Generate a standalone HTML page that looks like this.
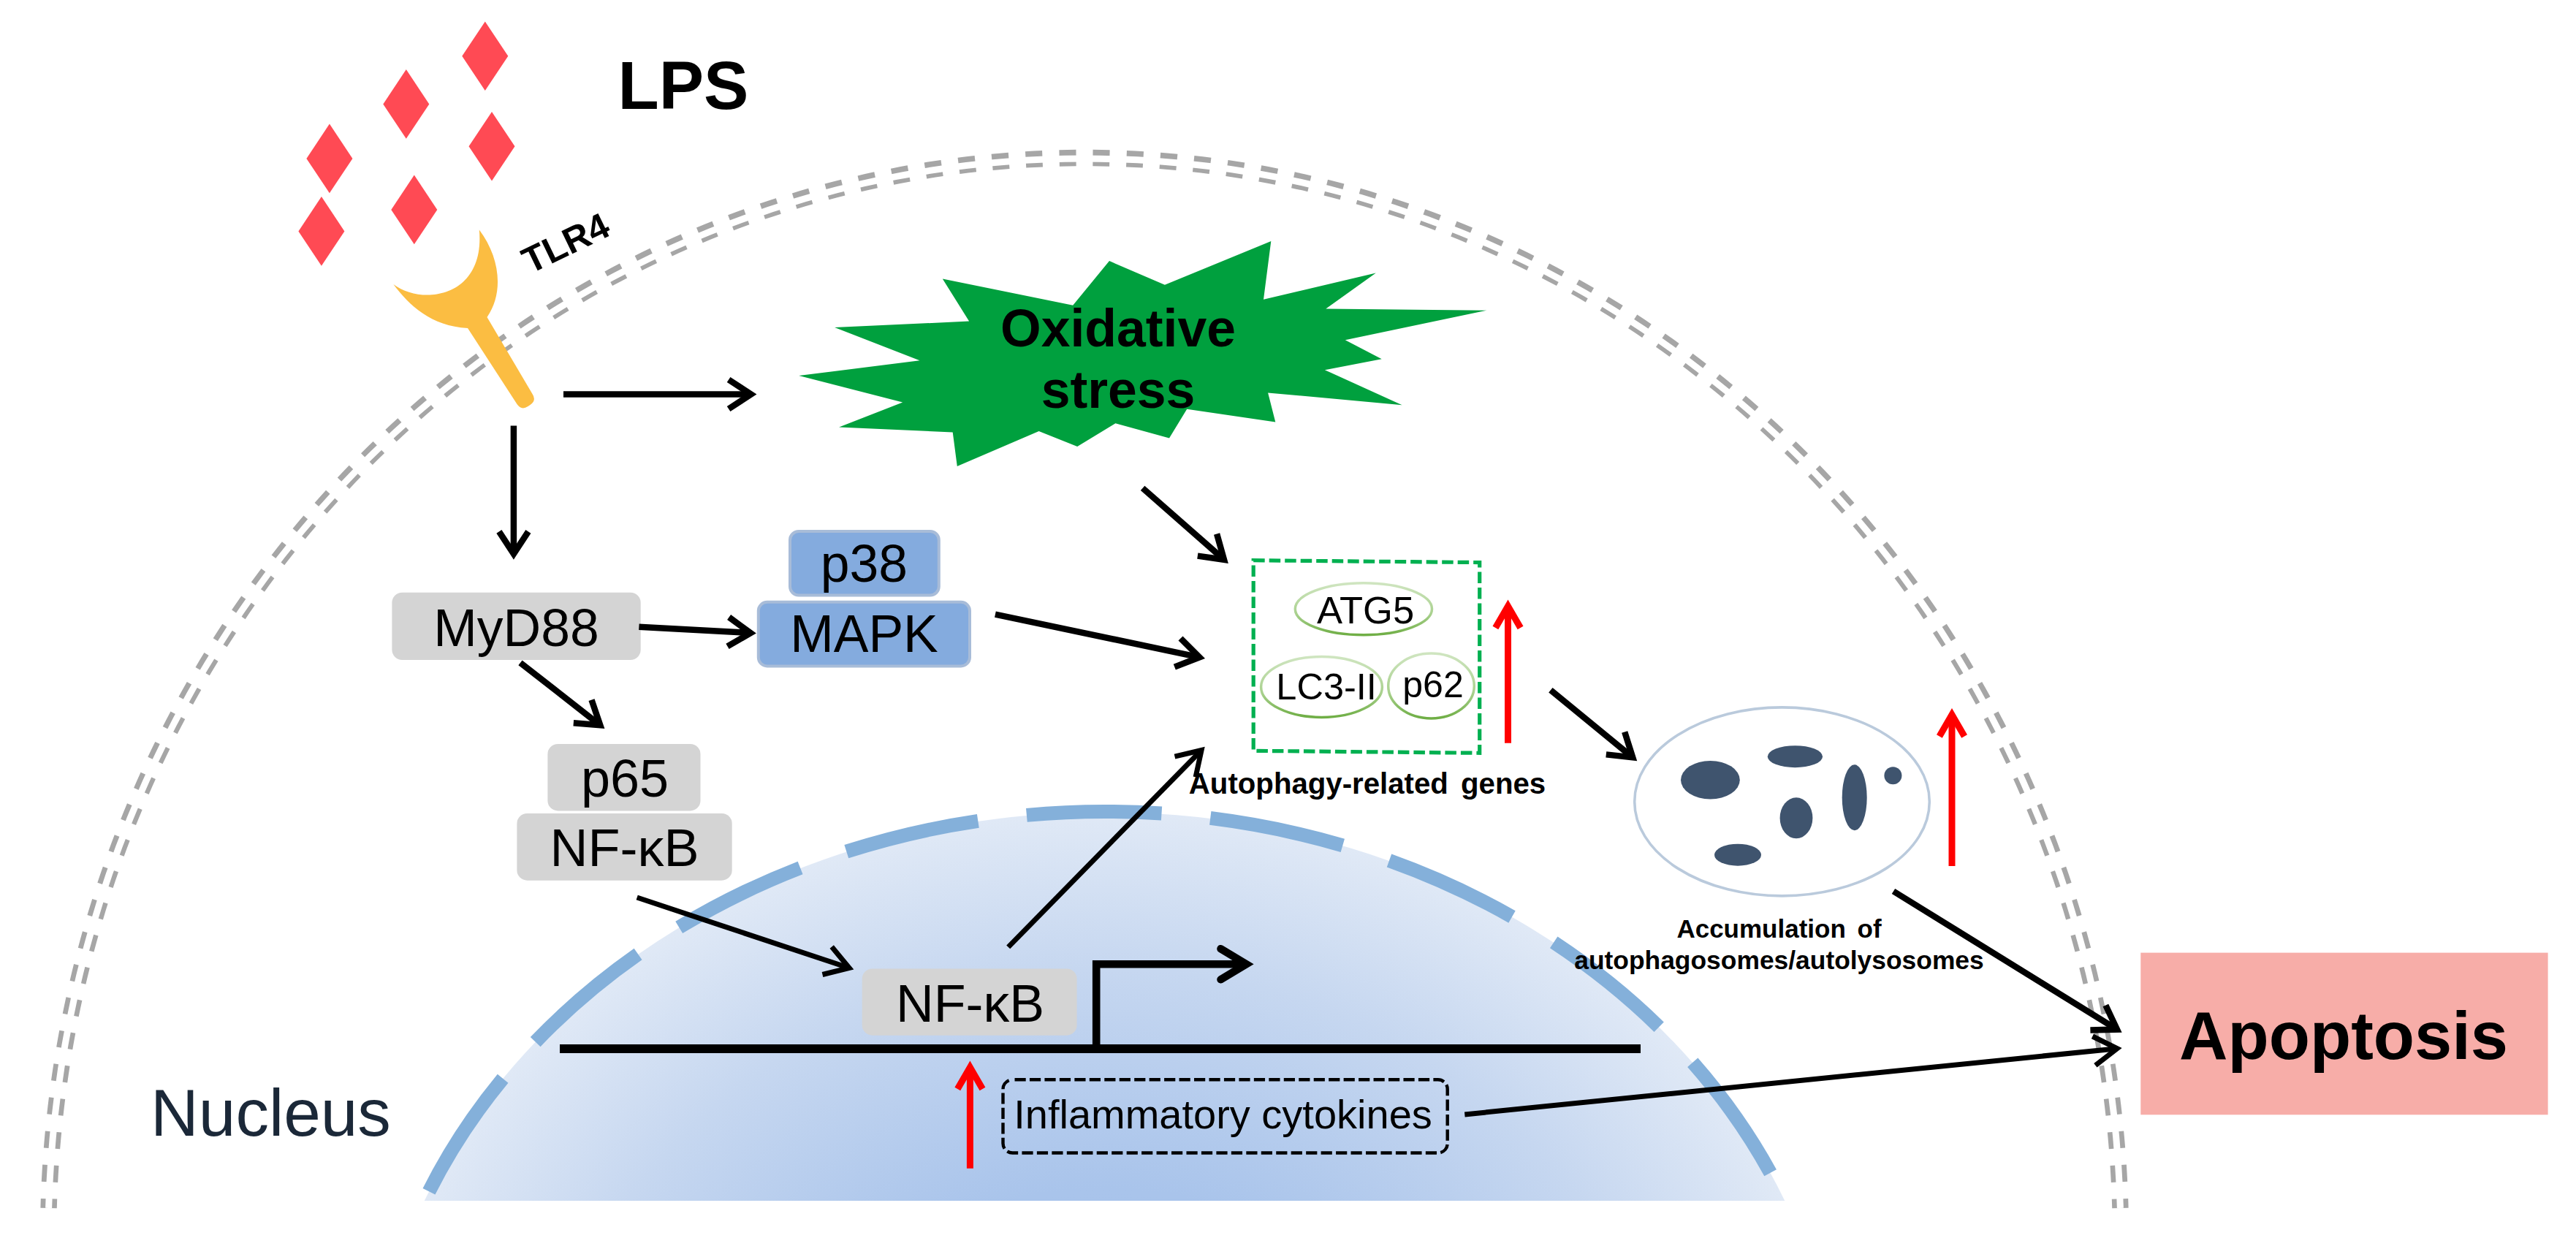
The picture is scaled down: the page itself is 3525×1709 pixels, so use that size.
<!DOCTYPE html>
<html><head><meta charset="utf-8"><title>LPS pathway</title>
<style>
html,body{margin:0;padding:0;background:#fff;}
body{width:3525px;height:1709px;overflow:hidden;}
svg{display:block;font-family:"Liberation Sans",sans-serif;}
</style></head><body>
<svg width="3525" height="1709" viewBox="0 0 3525 1709">
<rect width="3525" height="1709" fill="#fff"/>
<path d="M1484,216 A1418,1479 0 0 0 66.6,1653" fill="none" stroke="#A6A6A6" stroke-width="22.4" stroke-dasharray="23 23.02" stroke-dashoffset="34.51"/>
<path d="M1484,216 A1418,1479 0 0 1 2901.4,1653" fill="none" stroke="#A6A6A6" stroke-width="22.4" stroke-dasharray="23 23.02" stroke-dashoffset="34.51"/>
<path d="M66.6,1653 A1418,1479 0 0 1 2901.4,1653" fill="none" stroke="#fff" stroke-width="9"/>
<defs><clipPath id="nclip"><rect x="0" y="0" width="3525" height="1643"/></clipPath>
<radialGradient id="ngrad" gradientUnits="userSpaceOnUse" cx="1511.5" cy="1970" r="1006.5" gradientTransform="translate(0,1970) scale(1,0.8539) translate(0,-1970)"><stop offset="0" stop-color="#A3BFE9"/><stop offset="0.4" stop-color="#A9C4EB"/><stop offset="0.75" stop-color="#C6D7F0"/><stop offset="1" stop-color="#E0E9F6"/></radialGradient>
<linearGradient id="egrad" x1="0" y1="0" x2="0" y2="1"><stop offset="0" stop-color="#CFE5C0"/><stop offset="0.6" stop-color="#A9D18E"/><stop offset="1" stop-color="#6FAE45"/></linearGradient>
</defs>
<g clip-path="url(#nclip)">
<ellipse cx="1511.5" cy="1970" rx="1006.5" ry="859.0" fill="url(#ngrad)"/>
<path d="M505.0,1970 A1006.5,859.5 0 0 1 2518.0,1970" fill="none" stroke="#84B0DA" stroke-width="19" stroke-dasharray="185 67" stroke-dashoffset="151.17"/>
</g>
<polygon points="663.8,29.400000000000006 695.3,76.7 663.8,124.0 632.3,76.7" fill="#FF4A54"/>
<polygon points="555.8,95.10000000000001 587.3,142.4 555.8,189.7 524.3,142.4" fill="#FF4A54"/>
<polygon points="450.9,169.60000000000002 482.4,216.9 450.9,264.2 419.4,216.9" fill="#FF4A54"/>
<polygon points="673.0,152.89999999999998 704.5,200.2 673.0,247.5 641.5,200.2" fill="#FF4A54"/>
<polygon points="439.9,269.09999999999997 471.4,316.4 439.9,363.7 408.4,316.4" fill="#FF4A54"/>
<polygon points="566.8,239.59999999999997 598.3,286.9 566.8,334.2 535.3,286.9" fill="#FF4A54"/>
<text x="935.0" y="148.7" font-size="92" font-weight="bold" fill="#000" text-anchor="middle" >LPS</text>
<path d="M538.4,388.9 C560,418 590,446 640,449 L707.5,553 Q713.5,562 722.5,556 L725.5,554 Q734.5,548 728.5,539 L666.5,434 C690,400 684,352 655.8,314.6 C664,408.1 576.9,418.4 538.4,388.9 Z" fill="#FBBD42"/>
<text transform="translate(773.8,331.9) rotate(-25.8)" x="0" y="17.9" font-size="50" font-weight="bold" text-anchor="middle">TLR4</text>
<polygon points="1289.8,381.4 1326.1,439.6 1142.1,448.0 1258.5,493.2 1093.2,514.1 1235.2,550.5 1148.1,584.5 1303.7,591.5 1309.8,638.0 1421.6,590.1 1474.2,611.0 1526.4,579.3 1600.0,599.4 1624.2,559.8 1745.3,577.5 1735.1,537.4 1918.6,554.2 1812.9,506.2 1890.7,491.3 1840.8,465.2 2034.2,424.7 1814.3,422.4 1882.8,373.4 1729.0,409.8 1739.3,330.1 1593.9,389.8 1518.0,357.1 1468.2,417.7" fill="#00A03E"/>
<text x="1530.0" y="473.6" font-size="71.5" font-weight="bold" fill="#000" text-anchor="middle" >Oxidative</text>
<text x="1530.0" y="557.5" font-size="71.5" font-weight="bold" fill="#000" text-anchor="middle" >stress</text>
<rect x="536.4" y="810.7" width="340.3" height="92.3" rx="14" ry="14" fill="#D4D4D4"/>
<text x="706.5" y="883.5" font-size="71.5" font-weight="normal" fill="#000" text-anchor="middle" >MyD88</text>
<rect x="1081.0" y="727.0" width="203.8" height="87.5" rx="12" ry="12" fill="#84ABDE" stroke="#A8BCD8" stroke-width="4"/>
<text x="1182.5" y="796.3" font-size="71.5" font-weight="normal" fill="#000" text-anchor="middle" >p38</text>
<rect x="1037.8" y="823.8" width="289.2" height="87.6" rx="12" ry="12" fill="#84ABDE" stroke="#A8BCD8" stroke-width="4"/>
<text x="1182.5" y="891.5" font-size="71.5" font-weight="normal" fill="#000" text-anchor="middle" >MAPK</text>
<rect x="749.4" y="1018.0" width="209.1" height="91.4" rx="14" ry="14" fill="#D4D4D4"/>
<text x="855.0" y="1090.3" font-size="72" font-weight="normal" fill="#000" text-anchor="middle" >p65</text>
<rect x="707.4" y="1113.0" width="294.3" height="91.7" rx="14" ry="14" fill="#D4D4D4"/>
<text x="854.5" y="1185.4" font-size="72" font-weight="normal" fill="#000" text-anchor="middle" >NF-κB</text>
<rect x="1179.7" y="1325.5" width="293.9" height="91.2" rx="14" ry="14" fill="#D4D4D4"/>
<text x="1327.5" y="1398.0" font-size="71.7" font-weight="normal" fill="#000" text-anchor="middle" >NF-κB</text>
<path d="M771.0,539.5 L1027.7,539.5" stroke="#000" stroke-width="8.5" fill="none" stroke-linecap="butt"/>
<path d="M997.1,559.5 L1027.7,539.5 L997.1,519.5" stroke="#000" stroke-width="8.5" fill="none" stroke-linejoin="miter" stroke-miterlimit="10" stroke-linecap="butt"/>
<path d="M702.9,582.5 L702.9,757.9" stroke="#000" stroke-width="8.5" fill="none" stroke-linecap="butt"/>
<path d="M682.9,727.3 L702.9,757.9 L722.9,727.3" stroke="#000" stroke-width="8.5" fill="none" stroke-linejoin="miter" stroke-miterlimit="10" stroke-linecap="butt"/>
<path d="M874.4,857.8 L1027.1,866.1" stroke="#000" stroke-width="8.5" fill="none" stroke-linecap="butt"/>
<path d="M995.5,884.4 L1027.1,866.1 L997.6,844.5" stroke="#000" stroke-width="8.5" fill="none" stroke-linejoin="miter" stroke-miterlimit="10" stroke-linecap="butt"/>
<path d="M712.0,906.8 L821.3,992.3" stroke="#000" stroke-width="8.5" fill="none" stroke-linecap="butt"/>
<path d="M784.8,989.2 L821.3,992.3 L809.5,957.7" stroke="#000" stroke-width="8.5" fill="none" stroke-linejoin="miter" stroke-miterlimit="10" stroke-linecap="butt"/>
<path d="M1361.9,840.6 L1641.4,899.3" stroke="#000" stroke-width="8.5" fill="none" stroke-linecap="butt"/>
<path d="M1607.3,912.6 L1641.4,899.3 L1615.5,873.4" stroke="#000" stroke-width="8.5" fill="none" stroke-linejoin="miter" stroke-miterlimit="10" stroke-linecap="butt"/>
<path d="M1563.6,667.9 L1675.0,765.8" stroke="#000" stroke-width="8.5" fill="none" stroke-linecap="butt"/>
<path d="M1638.8,760.6 L1675.0,765.8 L1665.1,730.5" stroke="#000" stroke-width="8.5" fill="none" stroke-linejoin="miter" stroke-miterlimit="10" stroke-linecap="butt"/>
<path d="M1379.7,1295.9 L1644.1,1026.5" stroke="#000" stroke-width="7" fill="none" stroke-linecap="butt"/>
<path d="M1636.1,1063.2 L1644.1,1026.5 L1607.5,1035.2" stroke="#000" stroke-width="7" fill="none" stroke-linejoin="miter" stroke-miterlimit="10" stroke-linecap="butt"/>
<path d="M871.7,1228.0 L1162.1,1324.5" stroke="#000" stroke-width="7" fill="none" stroke-linecap="butt"/>
<path d="M1125.5,1333.5 L1162.1,1324.5 L1138.2,1295.5" stroke="#000" stroke-width="7" fill="none" stroke-linejoin="miter" stroke-miterlimit="10" stroke-linecap="butt"/>
<path d="M2121.9,944.3 L2234.2,1036.4" stroke="#000" stroke-width="8.5" fill="none" stroke-linecap="butt"/>
<path d="M2197.8,1032.4 L2234.2,1036.4 L2223.2,1001.5" stroke="#000" stroke-width="8.5" fill="none" stroke-linejoin="miter" stroke-miterlimit="10" stroke-linecap="butt"/>
<path d="M2591.0,1219.5 L2897.0,1408.6" stroke="#000" stroke-width="8.5" fill="none" stroke-linecap="butt"/>
<path d="M2860.4,1409.5 L2897.0,1408.6 L2881.4,1375.5" stroke="#000" stroke-width="8.5" fill="none" stroke-linejoin="miter" stroke-miterlimit="10" stroke-linecap="butt"/>
<path d="M2004.3,1524.9 L2897.1,1434.7" stroke="#000" stroke-width="7" fill="none" stroke-linecap="butt"/>
<path d="M2867.4,1457.8 L2897.1,1434.7 L2863.4,1418.0" stroke="#000" stroke-width="7" fill="none" stroke-linejoin="miter" stroke-miterlimit="10" stroke-linecap="butt"/>
<path d="M766,1435 L2245,1435" stroke="#000" stroke-width="12" fill="none"/>
<path d="M1500.2,1435 L1500.2,1319.2 L1700,1319.2" stroke="#000" stroke-width="10.6" fill="none" stroke-linejoin="miter"/>
<path d="M1670.5,1298.2 L1705.4,1319.2 L1670.5,1340.2" stroke="#000" stroke-width="10.6" fill="none" stroke-linejoin="miter" stroke-linecap="round"/>
<path d="M1327.4,1598.8 L1327.4,1460.5" stroke="#FF0000" stroke-width="9" fill="none" stroke-linecap="butt"/>
<path d="M1344.5,1489.9 L1327.4,1460.5 L1310.3,1489.9" stroke="#FF0000" stroke-width="9" fill="none" stroke-linejoin="miter" stroke-miterlimit="10" stroke-linecap="butt"/>
<path d="M2063.5,1016.7 L2063.5,829.5" stroke="#FF0000" stroke-width="9" fill="none" stroke-linecap="butt"/>
<path d="M2080.6,858.9 L2063.5,829.5 L2046.4,858.9" stroke="#FF0000" stroke-width="9" fill="none" stroke-linejoin="miter" stroke-miterlimit="10" stroke-linecap="butt"/>
<path d="M2671.0,1184.9 L2671.0,978.0" stroke="#FF0000" stroke-width="9" fill="none" stroke-linecap="butt"/>
<path d="M2688.1,1007.4 L2671.0,978.0 L2653.9,1007.4" stroke="#FF0000" stroke-width="9" fill="none" stroke-linejoin="miter" stroke-miterlimit="10" stroke-linecap="butt"/>
<rect x="1372.5" y="1477.3" width="608.2" height="100.2" rx="13" ry="13" fill="none" stroke="#000" stroke-width="4.4" stroke-dasharray="15.2 5.26" stroke-dashoffset="-3"/>
<text x="1673.5" y="1544.2" font-size="56" font-weight="normal" fill="#000" text-anchor="middle" >Inflammatory cytokines</text>
<path d="M1715.2,766.7 L2024.7,769.6 L2024.7,1030.3 L1715.2,1027.3 Z" fill="none" stroke="#00B050" stroke-width="5.2" stroke-dasharray="15.5 6"/>
<ellipse cx="1865.9" cy="833.3" rx="93.6" ry="35.5" fill="#fff" stroke="url(#egrad)" stroke-width="3.5"/>
<text x="1868.5" y="853.4" font-size="52.5" font-weight="normal" fill="#000" text-anchor="middle" >ATG5</text>
<ellipse cx="1808.5" cy="939.9" rx="82.9" ry="41.5" fill="#fff" stroke="url(#egrad)" stroke-width="3.5"/>
<text x="1815.1" y="957.1" font-size="50.5" font-weight="normal" fill="#000" text-anchor="middle" >LC3-II</text>
<ellipse cx="1958.5" cy="938.5" rx="58.8" ry="44.4" fill="#fff" stroke="url(#egrad)" stroke-width="3.5"/>
<text x="1961.0" y="953.9" font-size="50" font-weight="normal" fill="#000" text-anchor="middle" >p62</text>
<text x="1871.0" y="1085.7" font-size="40.2" font-weight="bold" fill="#000" text-anchor="middle" word-spacing="6">Autophagy-related genes</text>
<ellipse cx="2438.5" cy="1096.9" rx="201.8" ry="129" fill="#fff" stroke="#BACADC" stroke-width="3.6"/>
<ellipse cx="2340.4" cy="1067.2" rx="40.4" ry="26.3" fill="#3F546E"/>
<ellipse cx="2456.4" cy="1035.2" rx="37.6" ry="15" fill="#3F546E"/>
<ellipse cx="2458" cy="1119.3" rx="22.4" ry="28" fill="#3F546E"/>
<ellipse cx="2537.7" cy="1091.3" rx="17" ry="45" fill="#3F546E"/>
<ellipse cx="2590.4" cy="1061.2" rx="12.0" ry="12.0" fill="#3F546E"/>
<ellipse cx="2378" cy="1169.7" rx="32" ry="15" fill="#3F546E"/>
<text x="2434.5" y="1283.2" font-size="35" font-weight="bold" fill="#000" text-anchor="middle" word-spacing="6">Accumulation of</text>
<text x="2434.5" y="1325.6" font-size="35.4" font-weight="bold" fill="#000" text-anchor="middle" >autophagosomes/autolysosomes</text>
<rect x="2929.3" y="1303.6" width="557.3" height="221.7" fill="#F7ADA8"/>
<text x="3207.0" y="1449.0" font-size="92" font-weight="bold" fill="#000" text-anchor="middle" >Apoptosis</text>
<text x="370.5" y="1554.0" font-size="91" font-weight="normal" fill="#1B2838" text-anchor="middle" >Nucleus</text>
</svg>
</body></html>
